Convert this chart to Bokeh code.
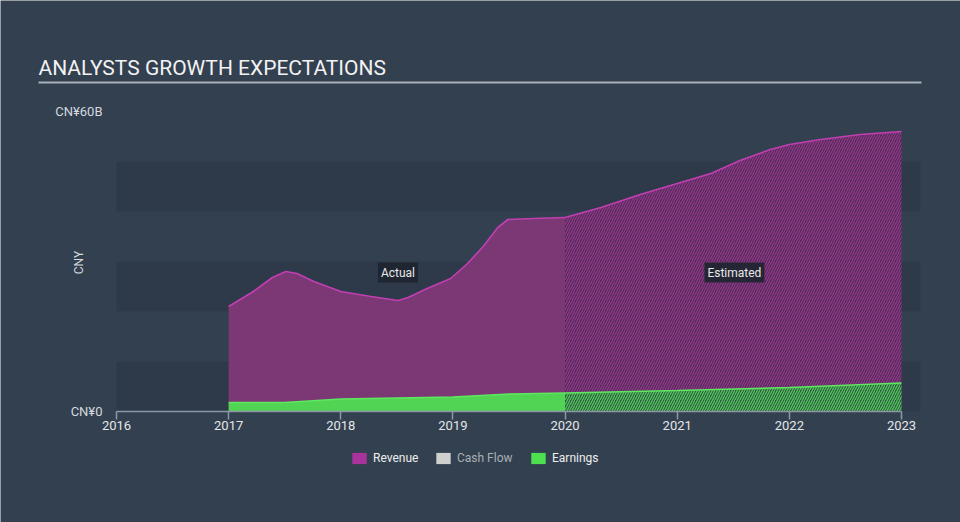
import math
from bokeh.plotting import figure
from bokeh.models import (BoxAnnotation, Label, Legend, LegendItem,
                          FixedTicker, Range1d)
from bokeh.embed import file_html
from bokeh.resources import INLINE

# ---------------- data ----------------
title_text = "ANALYSTS GROWTH EXPECTATIONS"
y_axis_title = "CNY"
x_ticks = [2016, 2017, 2018, 2019, 2020, 2021, 2022, 2023]
y_ticks = [0, 60]
y_tick_labels = ["CN¥0", "CN¥60B"]
series_names = ["Revenue", "Cash Flow", "Earnings"]
period_names = ["Actual", "Estimated"]

# values in CN¥ billions
rev_actual_year = [2017.0, 2017.22, 2017.39, 2017.51, 2017.61, 2017.76, 2018.0,
                   2018.27, 2018.51, 2018.6, 2018.77, 2018.98, 2019.13, 2019.27,
                   2019.4, 2019.49, 2019.72, 2020.0]
rev_actual = [21.0, 24.0, 26.8, 28.0, 27.6, 26.0, 24.0,
              23.0, 22.2, 22.8, 24.6, 26.6, 29.6, 33.0,
              36.8, 38.4, 38.6, 38.8]
rev_est_year = [2020.0, 2020.32, 2020.67, 2021.0, 2021.3, 2021.56, 2021.83,
                2022.0, 2022.28, 2022.63, 2023.0]
rev_est = [38.8, 40.8, 43.4, 45.6, 47.6, 50.2, 52.4,
           53.4, 54.4, 55.4, 56.0]

earn_actual_year = [2017.0, 2017.5, 2018.0, 2018.5, 2019.0, 2019.5, 2020.0]
earn_actual = [1.8, 1.8, 2.5, 2.7, 2.9, 3.5, 3.7]
earn_est_year = [2020.0, 2021.0, 2022.0, 2023.0]
earn_est = [3.7, 4.2, 4.8, 5.7]

# ---------------- layout / style ----------------
W, H = 960, 522
BG = "#334050"
BAND = "#2e3a49"
FONT = "Roboto"

# pixel geometry of the plotting area within the canvas
X0_PX, X1_PX = 116, 901       # 2016 .. 2023
Y0_PX, Y60_PX = 411, 111      # 0 .. 60B
ppy = (X1_PX - X0_PX) / (x_ticks[-1] - x_ticks[0])
ppv = (Y0_PX - Y60_PX) / (y_ticks[-1] - y_ticks[0])
x_start = x_ticks[0] - X0_PX / ppy
x_end = x_start + W / ppy
y_start = -(H - Y0_PX) / ppv
y_end = y_start + H / ppv
band_right = x_ticks[0] + (920 - X0_PX) / ppy

p = figure(width=W, height=H, min_border=0,
           x_range=Range1d(x_start, x_end), y_range=Range1d(y_start, y_end),
           output_backend="svg", toolbar_location=None,
           background_fill_color=BG, border_fill_color=BG,
           outline_line_color=None)
p.xgrid.visible = False
p.ygrid.visible = False

for lo in (0, 20, 40):
    p.add_layout(BoxAnnotation(bottom=lo, top=lo + 10, left=x_ticks[0], right=band_right,
                               fill_color=BAND, fill_alpha=1, line_color=None,
                               level="underlay"))

# Revenue
p.varea(x=rev_actual_year, y1=0, y2=rev_actual, fill_color="#7b3875")
p.varea(x=rev_est_year, y1=0, y2=rev_est, fill_color="#4a2b52",
        hatch_pattern="/", hatch_color="#93378a", hatch_scale=5, hatch_weight=1.3)
p.line(x=rev_actual_year, y=rev_actual, line_color="#c13fb1", line_width=1.6)
p.line(x=rev_est_year, y=rev_est, line_color="#c13fb1", line_width=1.6)

# Earnings
p.varea(x=earn_actual_year, y1=0, y2=earn_actual, fill_color="#51d454")
p.varea(x=earn_est_year, y1=0, y2=earn_est, fill_color="#35524a",
        hatch_pattern="/", hatch_color="#4bc853", hatch_scale=5, hatch_weight=1.3)
p.line(x=earn_actual_year, y=earn_actual, line_color="#5ee860", line_width=1.6)
p.line(x=earn_est_year, y=earn_est, line_color="#5ee860", line_width=1.6)

# axes (drawn at fixed data locations inside the canvas)
xa = p.xaxis[0]
xa.fixed_location = 0
xa.ticker = FixedTicker(ticks=x_ticks)
xa.bounds = (x_ticks[0], x_ticks[-1])
xa.axis_line_color = "#8d98a5"
xa.axis_line_width = 1.5
xa.major_tick_line_color = "#8d98a5"
xa.major_tick_line_width = 1.5
xa.major_tick_out = 8
xa.major_tick_in = 0
xa.minor_tick_line_color = None
xa.major_label_standoff = 1
xa.major_label_text_color = "#e4e6e8"
xa.major_label_text_font = FONT
xa.major_label_text_font_size = "13px"

ya = p.yaxis[0]
ya.fixed_location = x_ticks[0]
ya.ticker = FixedTicker(ticks=y_ticks)
ya.bounds = (y_ticks[0], y_ticks[-1])
ya.major_label_overrides = {t: s for t, s in zip(y_ticks, y_tick_labels)}
ya.axis_line_color = None
ya.major_tick_line_color = None
ya.minor_tick_line_color = None
ya.major_tick_out = 0
ya.major_tick_in = 0
ya.major_label_standoff = 14
ya.major_label_text_color = "#d5d9de"
ya.major_label_text_font = FONT
ya.major_label_text_font_size = "13px"

# texts (screen units: x from left, y from bottom of canvas)
p.add_layout(Label(x=38, y=H - 67, x_units="screen", y_units="screen",
                   text=title_text, text_font=FONT, text_font_size="21px",
                   text_color="#f2f2f2", text_baseline="alphabetic"))
p.add_layout(BoxAnnotation(left=38, right=921, bottom=H - 83, top=H - 81,
                           left_units="screen", right_units="screen",
                           bottom_units="screen", top_units="screen",
                           fill_color="#aab0b7", fill_alpha=1, line_color=None))
p.add_layout(Label(x=78, y=H - 262, x_units="screen", y_units="screen",
                   text=y_axis_title, angle=math.pi / 2, text_align="center",
                   text_baseline="middle", text_font=FONT, text_font_size="12px",
                   text_color="#d5d9de"))

for name, xc in zip(period_names, (2018.51, 2021.51)):
    p.add_layout(Label(x=xc, y=27.8, text=name, text_align="center",
                       text_baseline="middle", text_font=FONT,
                       text_font_size="12px", text_color="#e8e8e8",
                       background_fill_color="#1e2530", background_fill_alpha=0.92,
                       padding=3))

# legend (hidden zero-size proxies supply the swatch colours)
swatch_colors = ["#a8349b", "#cfcfcf", "#4de14f"]
label_colors = ["#eeeeee", "#a9afb6", "#eeeeee"]
legend_x = [350, 434, 529]
for name, sc, lc, lx in zip(series_names, swatch_colors, label_colors, legend_x):
    r = p.quad(left=x_ticks[:1], right=x_ticks[:1], top=y_ticks[:1], bottom=y_ticks[:1],
               fill_color=sc, line_color=None, visible=False)
    leg = Legend(items=[LegendItem(label=name, renderers=[r])],
                 location=(lx, H - 465), orientation="horizontal",
                 glyph_width=18, glyph_height=14, label_standoff=5,
                 label_height=12, padding=0, margin=0,
                 border_line_color=None, background_fill_alpha=0,
                 label_text_font=FONT, label_text_font_size="12px",
                 label_text_color=lc)
    p.add_layout(leg)

open("out.html", "w").write(file_html(p, INLINE))
